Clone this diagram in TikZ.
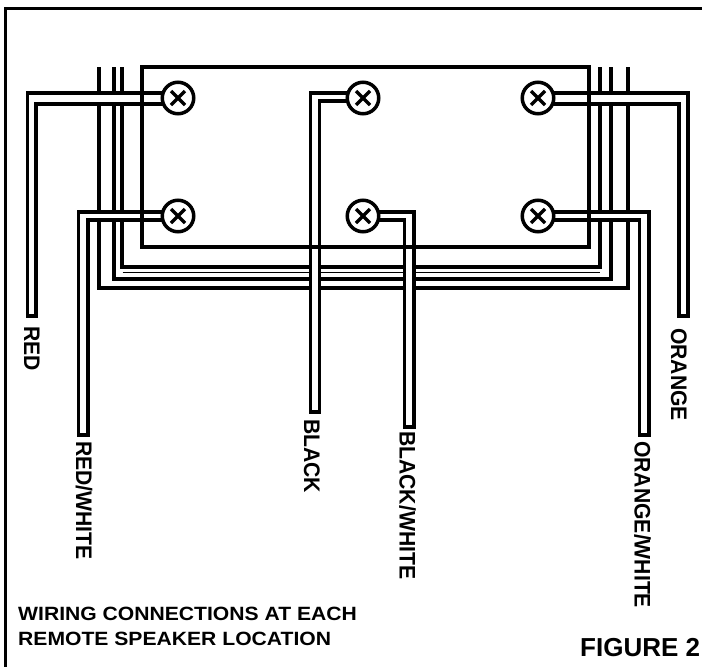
\documentclass[tikz,border=0pt]{standalone}
\usepackage{fontspec}
\usetikzlibrary{backgrounds}
\newfontfamily\wirefam[FakeStretch=0.94]{Liberation Sans}
\newfontfamily\capfam[FakeStretch=1.1]{Liberation Sans}
\newfontfamily\figfam{Liberation Sans}
\newcommand{\wirefont}{\wirefam\bfseries\fontsize{22.5}{24}\selectfont}
\newcommand{\capfont}{\capfam\bfseries\fontsize{19.2}{22}\selectfont}
\newcommand{\figfont}{\figfam\bfseries\fontsize{26}{30}\selectfont}

\begin{document}
\begin{tikzpicture}
    [x=1pt, y=-1pt,
 frame/.style ={draw, line width=3pt},
 panel/.style ={rectangle, draw, line width=3.5pt, minimum width=447pt, minimum height=180pt, inner sep=0pt},
 bus/.style ={draw, line width=3.6pt},
 wire/.style ={draw, fill=white, line width=3.5pt},
 screw/.style ={circle, draw, fill=white, line width=3.5pt, minimum size=31.5pt, inner sep=0pt,
 path picture={\draw[line width=3.5pt]
    ([shift={(-7pt,-7pt)}]path picture bounding box.center) -- ([shift={(7pt,7pt)}]path picture bounding box.center)
    ([shift={(-7pt,7pt)}]path picture bounding box.center) -- ([shift={(7pt,-7pt)}]path picture bounding box.center);}},
 wirelabel/.style ={rotate=-90, anchor=base west, inner sep=0pt, font=\wirefont},
 caption/.style ={anchor=base west, inner sep=0pt, font=\capfont}]
    \useasboundingbox (0,0) rectangle (702,667);
    \draw[frame] (5.5,667) |- (702,8);
    \node[panel] (box) at (365.5,157) {};
    \foreach \nm/\sx/\sy in {red/178/98, redw/178/216, blk/363/98, blkw/363/216, org/538/98, orgw/538/216}
        \node[screw] (\nm) at (\sx,\sy) {};
    \begin{scope}[on background layer]
        % cable runs round the panel
        \foreach \lx/\rx/\by in {122/600/267, 114/611/279, 99/628/288}
            \draw[bus] (\lx,67) |- (\rx,\by) -- (\rx,67);
        \coordinate (thinl) at (122.5,272.5);
        \coordinate (thinr) at (600,272.5);
        \draw[line width=1.5pt] (thinl) -- (thinr);
        \foreach \nm/\ox/\oy/\ix/\iy/\ty in {red/27.5/93/36/104/316, redw/78.5/212/88/220/435, blk/310.5/93/319.5/101/412,
            blkw/414/212/404.5/220/427, org/688/93/679/104/316, orgw/649/212/639.5/220/435}
        {
            \coordinate (\nm a) at (\ox,\oy);
            \coordinate (\nm b) at (\ix,\iy);
            \coordinate (\nm c) at (\ix,\ty);
            \draw[wire] (\nm.center |- \nm a) -- (\nm a) |- (\nm c) -- (\nm b) -- (\nm.center |- \nm b) -- cycle;
        }
    \end{scope}
    \node[wirelabel] (redlabel) at (24,326) {RED};
    \node[wirelabel] (redwlabel) at (76,441) {RED/WHITE};
    \node[wirelabel] (blklabel) at (304,419) {BLACK};
    \node[wirelabel] (blkwlabel) at (399.5,431) {BLACK/WHITE};
    \node[wirelabel] (orglabel) at (671,328) {ORANGE};
    \node[wirelabel] (orgwlabel) at (634.5,441) {ORANGE/WHITE};
    \node[caption] (capa) at (18,620) {WIRING CONNECTIONS AT EACH};
    \node[caption] (capb) at (18,645) {REMOTE SPEAKER LOCATION};
    \node[anchor=base west, inner sep=0pt, font=\figfont] (figlabel) at (580,656) {FIGURE 2};
\end{tikzpicture}
\end{document}
